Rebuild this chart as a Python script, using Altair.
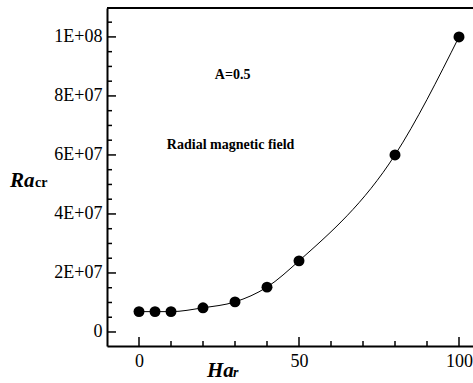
import altair as alt
import pandas as pd

# data
har = [0, 5, 10, 20, 30, 40, 50, 80, 100]
racr = [6.9e6, 6.9e6, 6.9e6, 8.2e6, 1.02e7, 1.52e7, 2.41e7, 6.0e7, 1.0e8]

x_major = [0, 50, 100]
x_minor = [10, 20, 30, 40, 60, 70, 80, 90]
y_major = [0, 2e7, 4e7, 6e7, 8e7, 1e8]
y_minor = [5e6, 1e7, 1.5e7, 2.5e7, 3e7, 3.5e7, 4.5e7, 5e7, 5.5e7, 6.5e7, 7e7, 7.5e7, 8.5e7, 9e7, 9.5e7, 1.05e8]

W, H = 366, 338
FONT = "Liberation Serif"

xs = alt.Scale(domain=[-10, 104.375], nice=False, zero=False)
ys = alt.Scale(domain=[-4.75e6, 1.098e8], nice=False, zero=False)

df = pd.DataFrame({"x": har, "y": racr})

base = alt.Chart(df)

line = base.mark_line(color="black", strokeWidth=1, interpolate="monotone").encode(
    x=alt.X("x:Q", scale=xs, axis=alt.Axis(
        values=x_major, title=None, grid=False, ticks=False, tickSize=0,
        labelFont=FONT, labelFontSize=18, labelColor="black", labelPadding=6,
        domainColor="black", domainWidth=2)),
    y=alt.Y("y:Q", scale=ys, axis=alt.Axis(
        values=y_major, title=None, grid=False, ticks=False, tickSize=0,
        labelFont=FONT, labelFontSize=18, labelColor="black", labelPadding=5,
        domainColor="black", domainWidth=2,
        labelExpr="datum.value == 0 ? '0' : replace(format(datum.value, '.0e'), 'e+', 'E+0')")),
)

pts = base.mark_circle(color="black", opacity=1, size=120).encode(
    x=alt.X("x:Q", scale=xs), y=alt.Y("y:Q", scale=ys))

# ticks drawn inside the frame
def yticks(vals, length):
    return alt.Chart(pd.DataFrame({"v": vals})).mark_rule(color="black", strokeWidth=1.5).encode(
        y=alt.Y("v:Q", scale=ys), x=alt.value(0), x2=alt.value(length))

def xticks(vals, length):
    return alt.Chart(pd.DataFrame({"v": vals})).mark_rule(color="black", strokeWidth=1.5).encode(
        x=alt.X("v:Q", scale=xs), y=alt.value(H), y2=alt.value(H - length))

top_line = alt.Chart(pd.DataFrame({"a": [0]})).mark_rule(color="black", strokeWidth=2).encode(
    x=alt.value(0), x2=alt.value(W), y=alt.value(0))

def label(txt, px, py, size, style="normal", weight="bold"):
    return alt.Chart(pd.DataFrame({"t": [txt]})).mark_text(
        font=FONT, fontSize=size, fontWeight=weight, fontStyle=style,
        align="left", baseline="alphabetic", color="black").encode(
        text="t:N", x=alt.value(px), y=alt.value(py))

ann_df = pd.DataFrame({"x": [23.7, 8.7], "y": [8.7e7, 6.34e7], "t": ["A=0.5", "Radial magnetic field"]})
ann = alt.Chart(ann_df).mark_text(font=FONT, fontSize=14, fontWeight="bold", align="left",
                                   baseline="middle", color="black").encode(
    x=alt.X("x:Q", scale=xs), y=alt.Y("y:Q", scale=ys), text="t:N")

chart = alt.layer(
    line, pts,
    yticks(y_major, 9), yticks(y_minor, 5),
    xticks(x_major, 9), xticks(x_minor, 5),
    top_line, ann,
    label("Ra", -97, 179, 21, "italic"),
    label("cr", -72, 179, 14),
    label("Ha", 100, 369, 21, "italic"),
    label("r", 126, 369, 14, "italic"),
).properties(
    width=W, height=H,
    autosize=alt.AutoSizeParams(type="none"),
    padding={"left": 107, "top": 8, "right": 0, "bottom": 37},
).configure_view(stroke=None).configure(background="white", font=FONT)

chart.save("out.html", embed_options={"renderer": "svg", "actions": False})
